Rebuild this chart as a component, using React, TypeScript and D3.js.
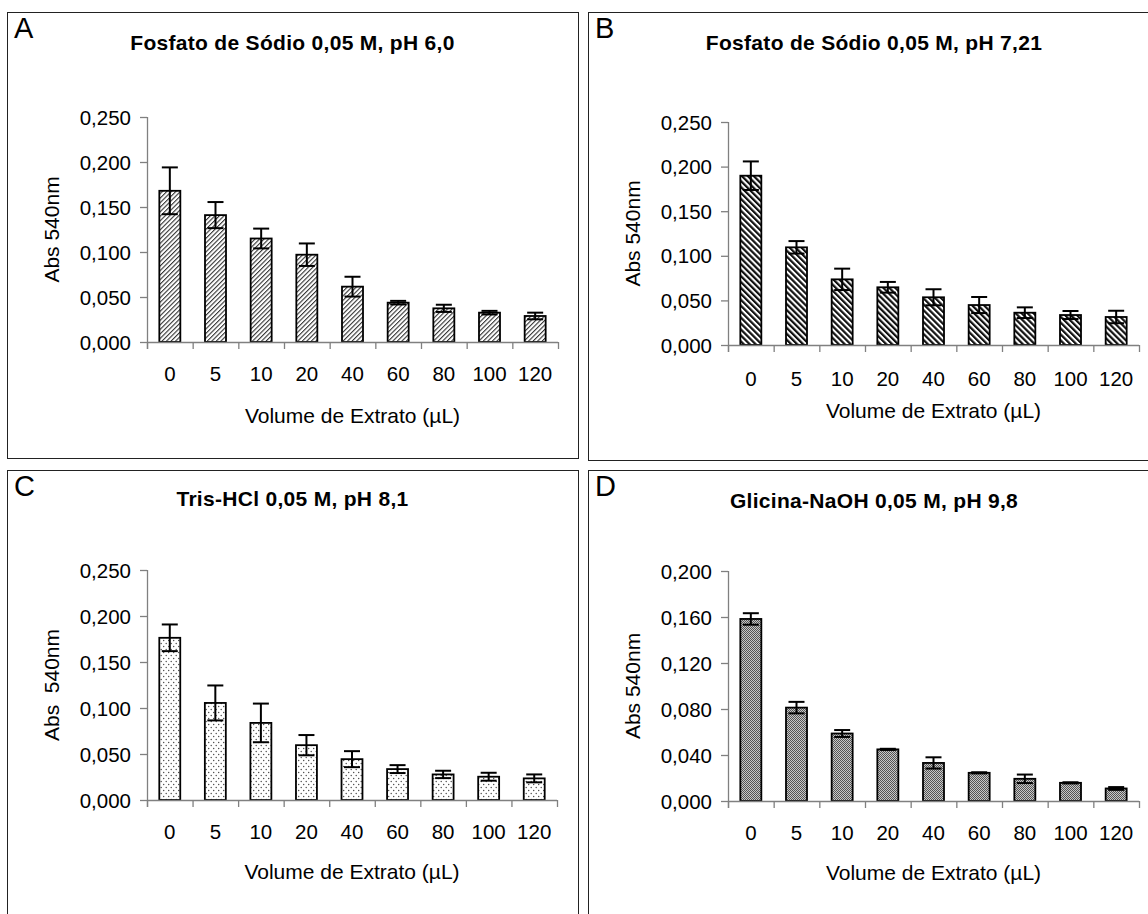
import React from "react";
import * as d3 from "d3";

// Volume de extrato (µL)
const categories = ["0", "5", "10", "20", "40", "60", "80", "100", "120"];

// A - Fosfato de Sódio pH 6,0
const valuesA = [0.168, 0.141, 0.115, 0.097, 0.0615, 0.0437, 0.0374, 0.0326, 0.0289];
const errorsA = [0.026, 0.0145, 0.011, 0.0125, 0.011, 0.002, 0.004, 0.002, 0.0037];

// B - Fosfato de Sódio pH 7,21
const valuesB = [0.1898, 0.1095, 0.0736, 0.0647, 0.0535, 0.0448, 0.0362, 0.0336, 0.0314];
const errorsB = [0.016, 0.007, 0.012, 0.006, 0.009, 0.009, 0.006, 0.0045, 0.007];

// C - Tris-HCl pH 8,1
const valuesC = [0.1763, 0.1055, 0.0838, 0.0596, 0.0444, 0.0336, 0.0278, 0.0253, 0.0235];
const errorsC = [0.0145, 0.019, 0.021, 0.011, 0.0087, 0.0043, 0.004, 0.0043, 0.0043];

// D - Glicina-NaOH pH 9,8
const valuesD = [0.1583, 0.0812, 0.0587, 0.0449, 0.0331, 0.0245, 0.0193, 0.0158, 0.0109];
const errorsD = [0.005, 0.005, 0.003, 0.0005, 0.0049, 0.0005, 0.0037, 0.0005, 0.0012];

const ticks250 = [0, 0.05, 0.1, 0.15, 0.2, 0.25];
const ticks200 = [0, 0.04, 0.08, 0.12, 0.16, 0.2];

const FONT = "Arial, 'Liberation Sans', sans-serif";
const AXIS = "#808080";

const fmt = (v: number) => v.toFixed(3).replace(".", ",");

type Panel = {
  letter: string;
  title: string;
  ylabel: string;
  values: number[];
  errors: number[];
  ticks: number[];
  fill: string;
  box: [number, number, number, number];
  plot: [number, number, number, number]; // x0, x1, yTop, yBottom
  tickY: number;
  labelY: number;
  titleY: number;
};

const panels: Panel[] = [
  {
    letter: "A", title: "Fosfato de Sódio 0,05 M, pH 6,0", ylabel: "Abs 540nm",
    values: valuesA, errors: errorsA, ticks: ticks250, fill: "url(#patA)",
    box: [7, 12, 571, 446], plot: [147, 558, 117, 342], tickY: 373, labelY: 415, titleY: 42,
  },
  {
    letter: "B", title: "Fosfato de Sódio 0,05 M, pH 7,21", ylabel: "Abs 540nm",
    values: valuesB, errors: errorsB, ticks: ticks250, fill: "url(#patB)",
    box: [588, 12, 572, 448], plot: [728, 1139, 122, 345], tickY: 378, labelY: 410, titleY: 42,
  },
  {
    letter: "C", title: "Tris-HCl 0,05 M, pH 8,1", ylabel: "Abs  540nm",
    values: valuesC, errors: errorsC, ticks: ticks250, fill: "url(#patC)",
    box: [7, 470, 571, 470], plot: [147, 557, 570, 800], tickY: 831, labelY: 871, titleY: 498,
  },
  {
    letter: "D", title: "Glicina-NaOH 0,05 M, pH 9,8", ylabel: "Abs 540nm",
    values: valuesD, errors: errorsD, ticks: ticks200, fill: "url(#patD)",
    box: [588, 470, 572, 470], plot: [728, 1139, 571, 801], tickY: 832, labelY: 872, titleY: 500,
  },
];

function BarPanel({ p }: { p: Panel }) {
  const [x0, x1, yTop, yBot] = p.plot;
  const [bx, by, bw, bh] = p.box;
  const x = d3.scaleBand<string>().domain(categories).range([x0, x1]).paddingInner(0.54).paddingOuter(0.27);
  const y = d3.scaleLinear().domain([0, p.ticks[p.ticks.length - 1]]).range([yBot, yTop]);
  const step = (x1 - x0) / categories.length;
  const bounds = d3.range(categories.length + 1).map((i) => x0 + i * step);
  const cap = 8;

  return (
    <g fontFamily={FONT}>
      <rect x={bx + 0.5} y={by + 0.5} width={bw} height={bh} fill="white" stroke="#222" strokeWidth={1} />
      <text x={bx + 7} y={by + 26} fontSize={29} fill="#000">{p.letter}</text>
      <text x={bx + bw / 2} y={p.titleY} fontSize={21} fontWeight="bold" letterSpacing={0.3} textAnchor="middle" dominantBaseline="central" fill="#000">{p.title}</text>

      {/* bars */}
      {p.values.map((v, i) => (
        <rect key={i} x={x(categories[i])} y={y(v)} width={x.bandwidth()} height={y(0) - y(v)}
          fill={p.fill} stroke="#000" strokeWidth={1.8} />
      ))}

      {/* error bars */}
      {p.values.map((v, i) => {
        const cx = (x(categories[i]) as number) + x.bandwidth() / 2;
        const hi = y(v + p.errors[i]);
        const lo = y(v - p.errors[i]);
        return (
          <g key={"e" + i} stroke="#000" strokeWidth={2}>
            <line x1={cx} x2={cx} y1={hi} y2={lo} />
            <line x1={cx - cap} x2={cx + cap} y1={hi} y2={hi} />
            <line x1={cx - cap} x2={cx + cap} y1={lo} y2={lo} />
          </g>
        );
      })}

      {/* y axis */}
      <line x1={x0 + 0.5} x2={x0 + 0.5} y1={yTop} y2={yBot + 7} stroke={AXIS} strokeWidth={1.3} />
      {p.ticks.map((t) => (
        <g key={t}>
          <line x1={x0 - 7} x2={x0} y1={y(t) + 0.5} y2={y(t) + 0.5} stroke={AXIS} strokeWidth={1.3} />
          <text x={x0 - 16} y={y(t)} fontSize={20.5} textAnchor="end" dominantBaseline="central" fill="#000">{fmt(t)}</text>
        </g>
      ))}

      {/* x axis */}
      <line x1={x0} x2={x1} y1={yBot + 0.5} y2={yBot + 0.5} stroke={AXIS} strokeWidth={1.3} />
      {bounds.map((b, i) => (
        <line key={i} x1={b + 0.5} x2={b + 0.5} y1={yBot} y2={yBot + 7} stroke={AXIS} strokeWidth={1.3} />
      ))}
      {categories.map((c) => (
        <text key={c} x={(x(c) as number) + x.bandwidth() / 2} y={p.tickY} fontSize={20.5} textAnchor="middle" dominantBaseline="central" fill="#000">{c}</text>
      ))}

      <text x={(x0 + x1) / 2} y={p.labelY} fontSize={21} textAnchor="middle" dominantBaseline="central" fill="#000">Volume de Extrato (µL)</text>
      <text transform={`translate(${x0 - 96},${(yTop + yBot) / 2}) rotate(-90)`} fontSize={21} textAnchor="middle" dominantBaseline="central" fill="#000" style={{ whiteSpace: "pre" }}>{p.ylabel}</text>
    </g>
  );
}

export default function App() {
  return (
    <svg width={1148} height={914} style={{ position: "absolute", left: 0, top: 0, background: "white" }}>
      <defs>
        <pattern id="patA" width={3.2} height={10} patternUnits="userSpaceOnUse" patternTransform="rotate(45)">
          <rect width={3.2} height={10} fill="white" />
          <rect width={1.1} height={10} fill="#333" />
        </pattern>
        <pattern id="patB" width={4.2} height={10} patternUnits="userSpaceOnUse" patternTransform="rotate(-45)">
          <rect width={4.2} height={10} fill="white" />
          <rect width={2.2} height={10} fill="#111" />
        </pattern>
        <pattern id="patC" width={5} height={6} patternUnits="userSpaceOnUse">
          <rect width={5} height={6} fill="white" />
          <circle cx={1.2} cy={1.5} r={0.7} fill="#444" />
          <circle cx={3.7} cy={4.5} r={0.7} fill="#444" />
        </pattern>
        <pattern id="patD" width={2} height={2} patternUnits="userSpaceOnUse">
          <rect width={2} height={2} fill="#c8c8c8" />
          <rect width={1} height={1} fill="#555" />
          <rect x={1} y={1} width={1} height={1} fill="#555" />
        </pattern>
      </defs>
      {panels.map((p) => (
        <BarPanel key={p.letter} p={p} />
      ))}
    </svg>
  );
}
